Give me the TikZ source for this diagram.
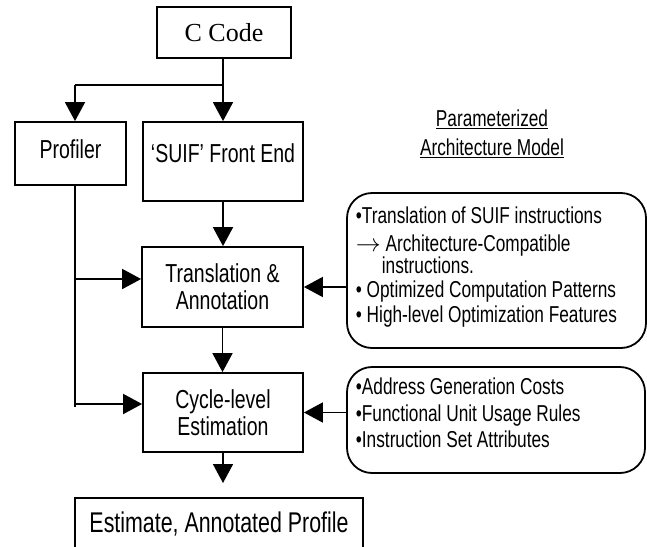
\documentclass[tikz,border=0pt]{standalone}
\usepackage{fontspec}
\setmainfont{Liberation Sans}[FakeStretch=0.75]
\newfontfamily\serifc{Liberation Serif}
\usetikzlibrary{arrows.meta}
\begin{document}
\begin{tikzpicture}[x=1pt,y=-1pt,line width=1.8pt,
  box/.style={draw,rectangle,inner sep=0pt,align=center,font=\fontsize{26}{27}\selectfont},
  feat/.style={draw,rounded corners=25pt,inner sep=0pt},
  arr/.style={-{Triangle[length=19pt,width=20pt]}},
  ftxt/.style={align=left,inner sep=0pt,anchor=north west,font=\fontsize{23}{24.5}\selectfont},
  lbl/.style={font=\fontsize{26}{27}\selectfont,inner sep=0pt}]
\useasboundingbox (0,0) rectangle (647,546);
% boxes
\node[box,minimum width=134pt,minimum height=51pt,font=\serifc\fontsize{26}{30}\selectfont] (ccode) at (224,32.5) {C Code};
\node[box,minimum width=111pt,minimum height=63pt,label={[lbl,yshift=4pt]center:Profiler}] (prof) at (70.5,153.5) {};
\node[box,minimum width=160pt,minimum height=79pt,label={[lbl,yshift=8pt]center:‘SUIF’ Front End}] (suif) at (223,161.5) {};
\node[box,minimum width=161pt,minimum height=80pt] (trans) at (222.5,287) {Translation \&\\Annotation};
\node[box,minimum width=160pt,minimum height=79pt] (cycle) at (223,412.5) {Cycle-level\\Estimation};
\node[box,minimum width=288pt,minimum height=52pt,font=\fontsize{28.5}{30}\selectfont] (est) at (219,524) {Estimate, Annotated Profile};
% title
\node[align=center,inner sep=0pt,font=\fontsize{23}{29}\selectfont] (title) at (492,134) {\underline{Parameterized}\\\underline{Architecture Model}};
% feature boxes
\node[feat,minimum width=299pt,minimum height=155pt] (feat1) at (496.5,270.5) {};
\node[feat,minimum width=298pt,minimum height=106pt] (feat2) at (496,420) {};
\node[ftxt] (f1t) at (355,206) {•Translation of SUIF instructions\\[3pt]
{\fontsize{23}{10}\selectfont$\rightarrow$} Architecture-Compatible\\[-2.5pt]
\hspace*{26pt}instructions.\\[0pt]
• Optimized Computation Patterns\\[0pt]
• High-level Optimization Features};
\node[ftxt] (f2t) at (355,377) {•Address Generation Costs\\[2pt]
•Functional Unit Usage Rules\\[2pt]
•Instruction Set Attributes};
% connectors
\coordinate (j) at (223,85);
\coordinate (jl) at (75,85);
\draw (ccode.south -| j) -- (j);
\draw (jl) -- (j);
\draw[arr] (j) -- (suif.north -| j);
\draw[arr] (jl) -- (prof.north -| jl);
\coordinate (pb) at (75,407);
\draw (prof.south -| pb) -- (pb);
\coordinate (b1) at (75,279);
\coordinate (b2) at (75,404);
\draw[arr] (b1) -- (b1 -| trans.west);
\draw[arr] (b2) -- (b2 -| cycle.west);
\draw[arr] (suif.south) -- (suif.south |- trans.north);
\draw[arr] (trans.south) -- (trans.south |- cycle.north);
\coordinate (out) at (223,483);
\draw[arr] (cycle.south) -- (out);
\draw[arr] (trans.east -| feat1.west) -- (trans.east);
\draw[arr] (cycle.east -| feat2.west) -- (cycle.east);
\end{tikzpicture}
\end{document}
